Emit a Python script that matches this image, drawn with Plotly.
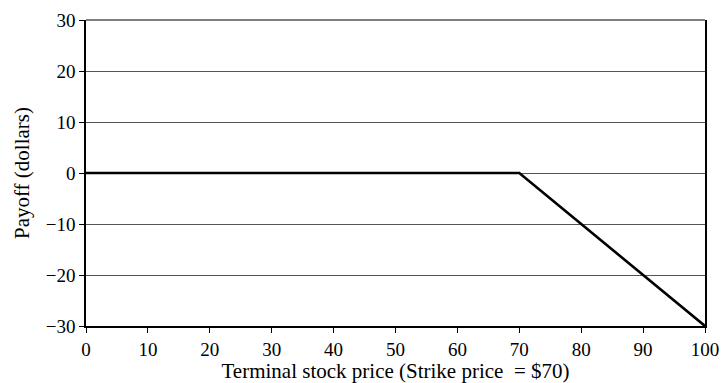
import plotly.graph_objects as go

stock_price = [0, 70, 100]
payoff = [0, 0, -30]
x_ticks = [0, 10, 20, 30, 40, 50, 60, 70, 80, 90, 100]
y_ticks = [-30, -20, -10, 0, 10, 20, 30]
y_tick_text = ["\u221230", "\u221220", "\u221210", "0", "10", "20", "30"]

fig = go.Figure()
fig.add_trace(go.Scatter(x=stock_price, y=payoff, mode="lines",
                         line=dict(color="black", width=2.6), showlegend=False))

font = dict(family="Liberation Serif, DejaVu Serif, serif", size=21, color="black")
tfont = dict(family="Liberation Serif, DejaVu Serif, serif", size=19, color="black")

# gridline along the top edge of the plot area (Plotly omits it at the range edge)
fig.add_shape(type="line", xref="paper", yref="paper", x0=0, x1=1, y0=1, y1=1,
              line=dict(color="#555555", width=1.5), layer="above")

fig.update_layout(
    width=724, height=383,
    margin=dict(l=86, r=19, t=20, b=57),
    paper_bgcolor="white", plot_bgcolor="white",
    font=font,
    xaxis=dict(range=[0, 100], tickvals=x_ticks, ticks="outside", ticklen=5,
               tickcolor="black", tickwidth=1, showline=True, linecolor="black",
               linewidth=1.5, mirror=False, showgrid=False, zeroline=False,
               automargin=False,
               title=dict(text="Terminal stock price (Strike price  = $70)", standoff=0,
                          font=font),
               tickfont=tfont),
    yaxis=dict(range=[-30, 30], tickvals=y_ticks, ticktext=y_tick_text,
               ticks="outside", ticklen=5, tickcolor="black", tickwidth=1,
               showline=True, linecolor="black", linewidth=1.5, mirror=True,
               showgrid=True, gridcolor="#555555", gridwidth=1, zeroline=False,
               automargin=False,
               title=dict(text="Payoff (dollars)", standoff=10, font=font),
               tickfont=tfont),
)
fig.write_html("out.html", config={"displayModeBar": False},
               post_script="document.body.style.margin='0px';document.body.style.overflow='hidden';")
